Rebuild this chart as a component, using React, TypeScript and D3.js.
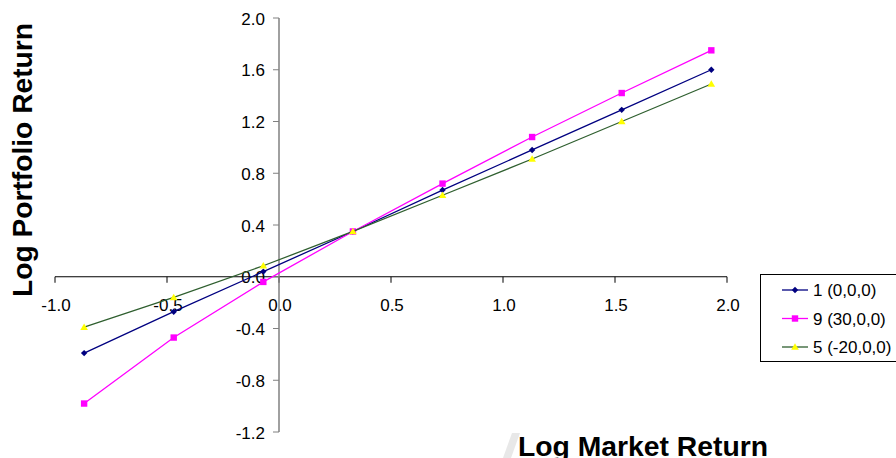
import React from "react";
import * as d3 from "d3";

const xValues = [-0.87, -0.47, -0.07, 0.33, 0.73, 1.13, 1.53, 1.93];
const series1 = [-0.59, -0.27, 0.04, 0.35, 0.67, 0.98, 1.29, 1.60];
const series9 = [-0.98, -0.47, -0.04, 0.35, 0.72, 1.08, 1.42, 1.75];
const series5 = [-0.39, -0.16, 0.085, 0.35, 0.63, 0.91, 1.20, 1.49];
const seriesNames = ["1 (0,0,0)", "9 (30,0,0)", "5 (-20,0,0)"];
const xTicks = [-1.0, -0.5, 0.0, 0.5, 1.0, 1.5, 2.0];
const yTicks = [-1.2, -0.8, -0.4, 0.0, 0.4, 0.8, 1.2, 1.6, 2.0];

const W = 896;
const H = 458;

type Series = { name: string; values: number[]; line: string; fill: string; marker: string };

const seriesList: Series[] = [
  { name: seriesNames[0], values: series1, line: "#000080", fill: "#000080", marker: "diamond" },
  { name: seriesNames[1], values: series9, line: "#FF00FF", fill: "#FF00FF", marker: "square" },
  { name: seriesNames[2], values: series5, line: "#2f5f2f", fill: "#FFFF00", marker: "triangle" },
];

function Marker({ kind, x, y, fill }: { kind: string; x: number; y: number; fill: string }) {
  if (kind === "diamond") {
    const r = 3.2;
    return <path d={`M${x},${y - r}L${x + r},${y}L${x},${y + r}L${x - r},${y}Z`} fill={fill} />;
  }
  if (kind === "square") {
    const r = 3.2;
    return <rect x={x - r} y={y - r} width={2 * r} height={2 * r} fill={fill} />;
  }
  const r = 3.8;
  return <path d={`M${x},${y - r}L${x + r},${y + r * 0.75}L${x - r},${y + r * 0.75}Z`} fill={fill} />;
}

export default function App() {
  const x = d3.scaleLinear().domain([-1, 2]).range([55, 727]);
  const y = d3.scaleLinear().domain([-1.2, 2.0]).range([432, 18]);
  const x0 = x(0);
  const y0 = y(0);
  const font = "Arial, 'Liberation Sans', sans-serif";

  const lineGen = d3
    .line<number>()
    .x((_, i) => x(xValues[i]))
    .y((d) => y(d));

  return (
    <svg
      width={W}
      height={H}
      style={{ position: "absolute", left: 0, top: 0, background: "#fff" }}
      fontFamily={font}
    >
      {/* x axis */}
      <line x1={x(-1)} x2={x(2)} y1={y0} y2={y0} stroke="#000" strokeWidth={1} />
      {xTicks.map((t) => (
        <g key={`xt${t}`}>
          <line x1={x(t)} x2={x(t)} y1={y0} y2={y0 + 6} stroke="#000" />
          <text x={x(t) + 1} y={y0 + 34} fontSize={17} textAnchor="middle" fill="#000">
            {t.toFixed(1)}
          </text>
        </g>
      ))}
      {/* y axis */}
      <line x1={x0} x2={x0} y1={y(2)} y2={y(-1.2)} stroke="#808080" strokeWidth={1.5} />
      {yTicks.map((t) => (
        <g key={`yt${t}`}>
          <line x1={x0 - 6} x2={x0} y1={y(t)} y2={y(t)} stroke="#808080" />
          <text x={x0 - 14} y={y(t) + 6.5} fontSize={17} textAnchor="end" fill="#000">
            {t.toFixed(1)}
          </text>
        </g>
      ))}

      {/* series */}
      {seriesList.map((s) => (
        <g key={s.name}>
          <path d={lineGen(s.values) || ""} fill="none" stroke={s.line} strokeWidth={1.3} />
          {s.values.map((v, i) => (
            <Marker key={i} kind={s.marker} x={x(xValues[i])} y={y(v)} fill={s.fill} />
          ))}
        </g>
      ))}

      {/* legend */}
      <rect x={760.5} y={274.5} width={140} height={87} fill="#fff" stroke="#000" strokeWidth={1} />
      {seriesList.map((s, i) => {
        const ly = 290 + i * 28.5;
        return (
          <g key={`lg${i}`}>
            <line x1={782} x2={808} y1={ly} y2={ly} stroke={s.line} strokeWidth={1.3} />
            <Marker kind={s.marker} x={795} y={ly} fill={s.fill} />
            <text x={813} y={ly + 6} fontSize={17} fill="#000">
              {s.name}
            </text>
          </g>
        );
      })}

      {/* axis titles */}
      <polygon points="512,433 520,433 511,458 503,458" fill="#e8e8e8" />
      <text x={518} y={456} fontSize={28} fontWeight="bold" fill="#000" textLength={250} lengthAdjust="spacingAndGlyphs">
        Log Market Return
      </text>
      <text
        transform="translate(32,297) rotate(-90)"
        x={0}
        y={0}
        fontSize={28}
        fontWeight="bold"
        fill="#000"
        textLength={274}
        lengthAdjust="spacingAndGlyphs"
      >
        Log Portfolio Return
      </text>
    </svg>
  );
}
